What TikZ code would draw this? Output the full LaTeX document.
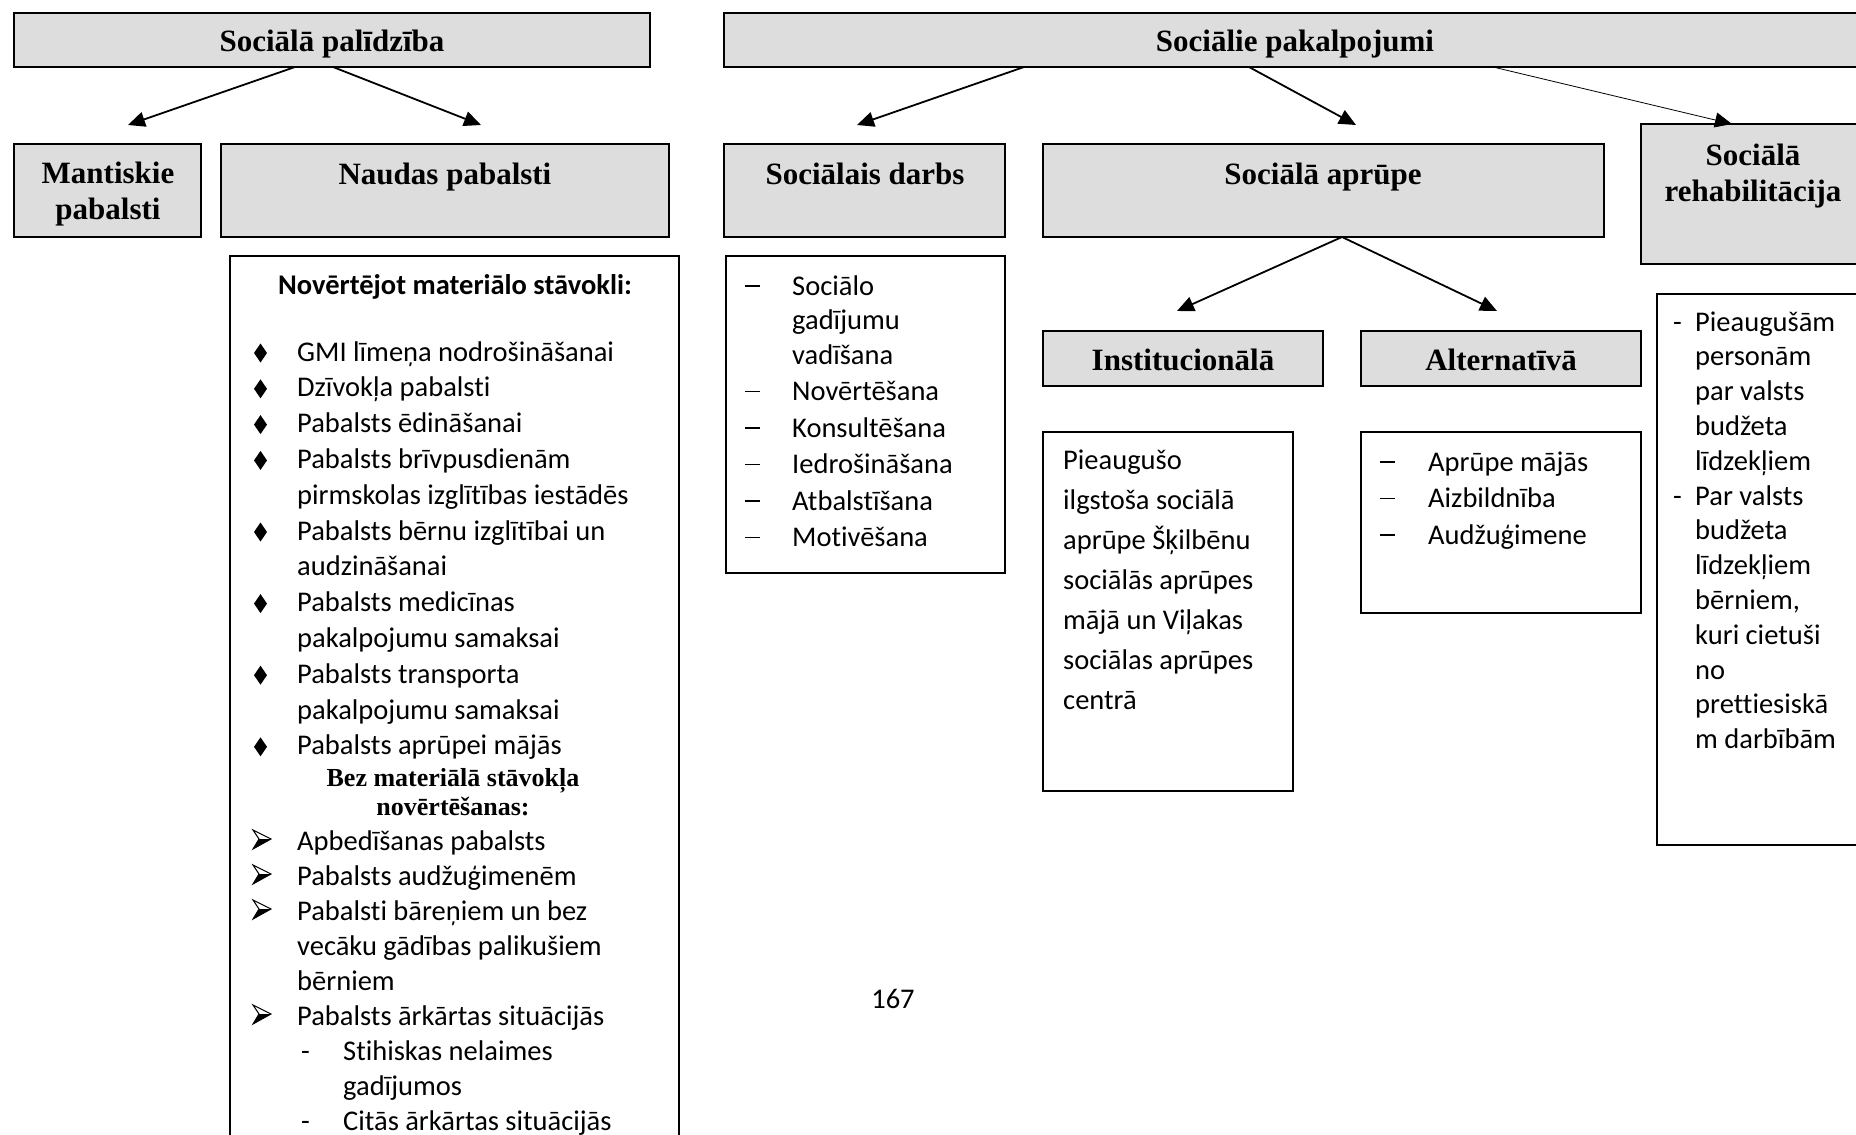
\documentclass[tikz,border=0pt]{standalone}
\usepackage{fontspec}
\setmainfont{Carlito}[Ligatures=NoCommon]
\newfontfamily\tnr{Liberation Serif}
\usetikzlibrary{arrows.meta,calc}
\definecolor{boxgray}{RGB}{221,221,221}
\newcommand\LRows[2]{\vtop{\baselineskip=#1\relax\lineskiplimit=-1000pt\lineskip=0pt\halign{##\hfil\cr#2\crcr}}}
\newcommand\CRows[2]{\vtop{\baselineskip=#1\relax\lineskiplimit=-1000pt\lineskip=0pt\halign{\hfil##\hfil\cr#2\crcr}}}
\newcommand\Dm{\hspace*{41pt}}
\newcommand\Ar{\hspace*{44pt}}
\newcommand\Dd[1]{\makebox[#1][l]{\rule[8.2pt]{15pt}{1.8pt}}}
\begin{document}
\begin{tikzpicture}[x=1pt,y=-1pt,
  gbox/.style={draw=black, line width=1.8pt, fill=boxgray, inner sep=0pt, outer sep=0pt, anchor=north west},
  wbox/.style={draw=black, line width=1.8pt, fill=white, inner sep=0pt, outer sep=0pt, anchor=north west},
  hd/.style={font=\tnr\bfseries\fontsize{31}{36}\selectfont, inner sep=0pt, anchor=base},
  sub/.style={font=\tnr\bfseries\fontsize{26}{30}\selectfont, inner sep=0pt, anchor=base},
  body/.style={font=\fontsize{28.5}{35}\selectfont, inner sep=0pt, anchor=base west},
  conn/.style={line width=1.8pt, -{Triangle[length=17pt,width=15pt]}},
  thinconn/.style={line width=0.8pt, -{Triangle[length=17pt,width=15pt]}},
  diam/.pic={\fill (0,-9.5) -- (6.5,0) -- (0,9.5) -- (-6.5,0) -- cycle;},
  arrb/.pic={\fill (6,-10) -- (18,-10) -- (0,0) -- cycle;
             \draw[line width=1pt, line join=miter] (0,-19) -- (18,-10) -- (0,0) -- (6,-10) -- cycle;}]
\useasboundingbox (0,0) rectangle (1856,1135);
\clip (0,0) rectangle (1856,1135);
\fill[white] (0,0) rectangle (1856,1135);

% header boxes
\node[gbox, minimum width=636pt, minimum height=54pt] (sp) at (14,13) {};
\node[gbox, minimum width=1146pt, minimum height=54pt] (spk) at (724,13) {};
\node[gbox, minimum width=187pt, minimum height=93pt] (mant) at (14,144) {};
\node[gbox, minimum width=448pt, minimum height=93pt] (naud) at (221,144) {};
\node[gbox, minimum width=281pt, minimum height=93pt] (darbs) at (724,144) {};
\node[gbox, minimum width=561pt, minimum height=93pt] (apr) at (1043,144) {};
\node[gbox, minimum width=229pt, minimum height=140pt] (rehab) at (1641,124) {};
\node[gbox, minimum width=280pt, minimum height=55pt] (inst) at (1043,331) {};
\node[gbox, minimum width=280pt, minimum height=55pt] (alt) at (1361,331) {};

% white list boxes
\node[wbox, minimum width=449pt, minimum height=900pt] (nov) at (230,256) {};
\node[wbox, minimum width=279pt, minimum height=317pt] (darbsl) at (726,256) {};
\node[wbox, minimum width=250pt, minimum height=359pt] (pieaug) at (1043,432) {};
\node[wbox, minimum width=280pt, minimum height=181pt] (altl) at (1361,432) {};
\node[wbox, minimum width=213pt, minimum height=551pt] (rehabl) at (1657,294) {};

% header texts
\node[hd] (tsp) at (332,51) {Sociālā palīdzība};
\node[hd] (tspk) at (1295,51) {Sociālie pakalpojumi};
\node[hd] (tmant) at (108,183) {\CRows{36pt}{Mantiskie\cr pabalsti}};
\node[hd] (tnaud) at (445,184) {Naudas pabalsti};
\node[hd] (tdarbs) at (865,184) {Sociālais darbs};
\node[hd] (tapr) at (1323,184) {Sociālā aprūpe};
\node[hd] (trehab) at (1753,165) {\CRows{36pt}{Sociālā\cr rehabilitācija}};
\node[hd] (tinst) at (1183,370) {Institucionālā};
\node[hd] (talt) at (1501,370) {Alternatīvā};

% Naudas pabalsti content
\node[body, anchor=base, font=\bfseries\fontsize{28.5}{35}\selectfont] (novh) at (455,294) {Novērtējot materiālo stāvokli:};
\node[body] (list1) at (256,361) {\LRows{35.8pt}{%
\Dm GMI līmeņa nodrošināšanai\cr
\Dm Dzīvokļa pabalsti\cr
\Dm Pabalsts ēdināšanai\cr
\Dm Pabalsts brīvpusdienām\cr
\hspace*{41pt}pirmskolas izglītības iestādēs\cr
\Dm Pabalsts bērnu izglītībai un\cr
\hspace*{41pt}audzināšanai\cr
\Dm Pabalsts medicīnas\cr
\hspace*{41pt}pakalpojumu samaksai\cr
\Dm Pabalsts transporta\cr
\hspace*{41pt}pakalpojumu samaksai\cr
\Dm Pabalsts aprūpei mājās}};
\foreach \r in {0,1,2,3,5,7,9,11}
  \pic at (260.5,{361-8+35.8*\r}) {diam};

\node[sub] (bez) at (453,786) {\CRows{29.6pt}{Bez materiālā stāvokļa\cr novērtēšanas:}};
\node[body] (list2) at (253,850.5) {\LRows{35pt}{%
\Ar Apbedīšanas pabalsts\cr
\Ar Pabalsts audžuģimenēm\cr
\Ar Pabalsti bāreņiem un bez\cr
\hspace*{44pt}vecāku gādības palikušiem\cr
\hspace*{44pt}bērniem\cr
\Ar Pabalsts ārkārtas situācijās\cr
\hspace*{48pt}\makebox[42pt][l]{-}Stihiskas nelaimes\cr
\hspace*{90pt}gadījumos\cr
\hspace*{48pt}\makebox[42pt][l]{-}Citās ārkārtas situācijās}};
\foreach \r in {0,1,2,5}
  \pic at (253,{849+35*\r}) {arrb};

% Sociālais darbs content
\node[body] (list3) at (745,295) {\LRows{34.5pt}{%
\Dd{47pt}Sociālo\cr
\hspace*{47pt}gadījumu\cr
\hspace*{47pt}vadīšana\cr\noalign{\vskip2pt}
\Dd{47pt}Novērtēšana\cr\noalign{\vskip2pt}
\Dd{47pt}Konsultēšana\cr\noalign{\vskip2pt}
\Dd{47pt}Iedrošināšana\cr\noalign{\vskip2pt}
\Dd{47pt}Atbalstīšana\cr\noalign{\vskip2pt}
\Dd{47pt}Motivēšana}};

% Institucionālā content
\node[body] (list4) at (1063,469) {\LRows{40.1pt}{%
Pieaugušo\cr
ilgstoša sociālā\cr
aprūpe Šķilbēnu\cr
sociālās aprūpes\cr
mājā un Viļakas\cr
sociālas aprūpes\cr
centrā}};

% Alternatīvā content
\node[body] (list5) at (1380,471) {\LRows{36.5pt}{%
\Dd{48pt}Aprūpe mājās\cr
\Dd{48pt}Aizbildnība\cr
\Dd{48pt}Audžuģimene}};

% Rehabilitācija content
\node[body] (list6) at (1673,331) {\LRows{34.8pt}{%
\makebox[22pt][l]{-}Pieaugušām\cr
\hspace*{22pt}personām\cr
\hspace*{22pt}par valsts\cr
\hspace*{22pt}budžeta\cr
\hspace*{22pt}līdzekļiem\cr
\makebox[22pt][l]{-}Par valsts\cr
\hspace*{22pt}budžeta\cr
\hspace*{22pt}līdzekļiem\cr
\hspace*{22pt}bērniem,\cr
\hspace*{22pt}kuri cietuši\cr
\hspace*{22pt}no\cr
\hspace*{22pt}prettiesiskā\cr
\hspace*{22pt}m darbībām}};

% page number
\node[body, anchor=base] (pg) at (893,1008) {167};

% connectors
\coordinate (spa) at ($(sp.south west)+(281,0)$);
\coordinate (spb) at ($(sp.south west)+(319,0)$);
\coordinate (tm) at (128,125);
\coordinate (tn) at (481,125);
\draw[conn] (spa) -- (tm);
\draw[conn] (spb) -- (tn);

\coordinate (ska) at ($(spk.south west)+(300,0)$);
\coordinate (skb) at ($(spk.south west)+(525,0)$);
\coordinate (skc) at ($(spk.south west)+(769,0)$);
\coordinate (td) at (857,125);
\coordinate (ta) at (1356,125);
\coordinate (tr) at (1732,124);
\draw[conn] (ska) -- (td);
\draw[conn] (skb) -- (ta);
\draw[thinconn] (skc) -- (tr);

\coordinate (apa) at ($(apr.south west)+(299,0)$);
\coordinate (ti) at (1177,311);
\coordinate (tl) at (1497,311);
\draw[conn] (apa) -- (ti);
\draw[conn] (apa) -- (tl);
\end{tikzpicture}
\end{document}
